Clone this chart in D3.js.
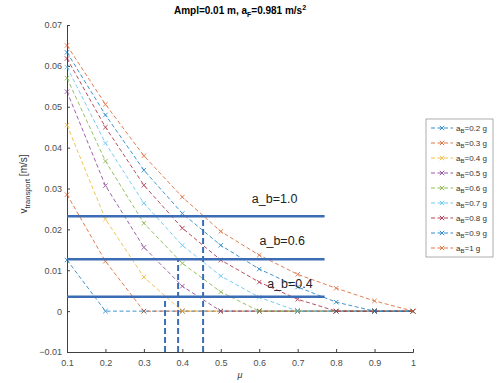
<!DOCTYPE html>
<html>
<head>
<meta charset="utf-8">
<script src="https://cdn.jsdelivr.net/npm/d3@7"></script>
<style>
  body { margin: 0; background: #fff; }
  svg { font-family: "Liberation Sans", Arial, sans-serif; }
</style>
</head>
<body>
<svg id="chart" width="500" height="383"></svg>
<script>
// mu values on the x axis
var mu = [0.1, 0.2, 0.3, 0.4, 0.5, 0.6, 0.7, 0.8, 0.9, 1.0]
var seriesNames = ['0.2', '0.3', '0.4', '0.5', '0.6', '0.7', '0.8', '0.9', '1']
// v_transport [m/s] for each a_B
var vB02 = [0.0125, 0, 0, 0, 0, 0, 0, 0, 0, 0]
var vB03 = [0.0285, 0.0122, 0, 0, 0, 0, 0, 0, 0, 0]
var vB04 = [0.0455, 0.0225, 0.0083, 0, 0, 0, 0, 0, 0, 0]
var vB05 = [0.0537, 0.0307, 0.0156, 0.0061, 0, 0, 0, 0, 0, 0]
var vB06 = [0.0570, 0.0367, 0.0215, 0.0117, 0.0047, 0, 0, 0, 0, 0]
var vB07 = [0.0597, 0.0411, 0.0264, 0.0161, 0.0086, 0.0034, 0, 0, 0, 0]
var vB08 = [0.0618, 0.0450, 0.0308, 0.0203, 0.0125, 0.0071, 0.0029, 0, 0, 0]
var vB09 = [0.0633, 0.0480, 0.0345, 0.0239, 0.0161, 0.0103, 0.0059, 0.0022, 0, 0]
var vB10 = [0.0650, 0.0506, 0.0380, 0.0279, 0.0195, 0.0137, 0.0090, 0.0056, 0.0025, 0]
var allSeries = [vB02, vB03, vB04, vB05, vB06, vB07, vB08, vB09, vB10]
var colors = ['#0072BD', '#D95319', '#EDB120', '#7E2F8E', '#77AC30', '#4DBEEE', '#A2142F', '#0072BD', '#D95319']
var xTicks = [0.1, 0.2, 0.3, 0.4, 0.5, 0.6, 0.7, 0.8, 0.9, 1]
var yTicks = [-0.01, 0, 0.01, 0.02, 0.03, 0.04, 0.05, 0.06, 0.07]
// hand-drawn guide lines
var levels = [0.0232, 0.0127, 0.0035]
var levelLabels = ['a_b=1.0', 'a_b=0.6', 'a_b=0.4']
var cutMu = [0.454, 0.389, 0.355]
var levelEnd = 0.77

var svg = d3.select('#chart')
var plotL = 67, plotT = 25, plotR = 413, plotB = 352

var x = d3.scaleLinear().domain([0.1, 1]).range([plotL, plotR])
var y = d3.scaleLinear().domain([-0.01, 0.07]).range([plotB, plotT])

var axisColor = '#404040'

// x axis
svg.append('g')
  .attr('transform', 'translate(0,' + plotB + ')')
  .call(d3.axisBottom(x).tickValues(xTicks).tickSize(-3).tickPadding(8)
    .tickFormat(function (d) { return d === 1 ? '1' : d3.format('.1f')(d) }))
// y axis
svg.append('g')
  .attr('transform', 'translate(' + plotL + ',0)')
  .call(d3.axisLeft(y).tickValues(yTicks).tickSize(-3).tickPadding(5)
    .tickFormat(function (d) { return d === 0 ? '0' : d3.format('.2f')(d) }))
svg.selectAll('.domain').attr('stroke', axisColor)
svg.selectAll('.tick line').attr('stroke', axisColor)
svg.selectAll('.tick text').attr('fill', '#4d4d4d').attr('font-size', '9px')

// series
var line = d3.line()
  .x(function (d, i) { return x(mu[i]) })
  .y(function (d) { return y(d) })

function cross (cx, cy, s) {
  return 'M' + (cx - s) + ',' + (cy - s) + 'L' + (cx + s) + ',' + (cy + s) +
    'M' + (cx - s) + ',' + (cy + s) + 'L' + (cx + s) + ',' + (cy - s)
}

allSeries.forEach(function (vals, k) {
  var g = svg.append('g').attr('opacity', 0.75)
  g.append('path')
    .attr('d', line(vals))
    .attr('fill', 'none')
    .attr('stroke', colors[k])
    .attr('stroke-width', 1)
    .attr('stroke-dasharray', '4,2.5')
  g.selectAll('path.m')
    .data(vals)
    .enter().append('path')
    .attr('class', 'm')
    .attr('d', function (d, i) { return cross(x(mu[i]), y(d), 2.2) })
    .attr('stroke', colors[k])
    .attr('stroke-width', 1)
})

// guide lines
var guide = '#3C6DB4'
levels.forEach(function (lv, i) {
  svg.append('line')
    .attr('x1', x(0.1)).attr('x2', x(levelEnd))
    .attr('y1', y(lv)).attr('y2', y(lv))
    .attr('stroke', guide).attr('stroke-width', 2.5)
  svg.append('line')
    .attr('x1', x(cutMu[i])).attr('x2', x(cutMu[i]))
    .attr('y1', y(-0.01)).attr('y2', y(lv))
    .attr('stroke', guide).attr('stroke-width', 2)
    .attr('stroke-dasharray', '6,3')
})
var labelMu = [0.64, 0.66, 0.68]
var labelV = [0.0265, 0.0162, 0.0057]
levelLabels.forEach(function (t, i) {
  svg.append('text')
    .attr('x', x(labelMu[i])).attr('y', y(labelV[i]))
    .attr('text-anchor', 'middle')
    .attr('font-size', '12.5px')
    .attr('fill', '#222')
    .text(t)
})

// title
var title = svg.append('text')
  .attr('x', (plotL + plotR) / 2).attr('y', 14)
  .attr('text-anchor', 'middle')
  .attr('font-size', '10px')
  .attr('font-weight', 'bold')
  .attr('fill', '#000')
title.append('tspan').text('Ampl=0.01 m, a')
title.append('tspan').attr('dy', 2.5).attr('font-size', '7px').text('F')
title.append('tspan').attr('dy', -2.5).text('=0.981 m/s')
title.append('tspan').attr('dy', -4).attr('font-size', '7px').text('2')

// axis labels
var yl = svg.append('text')
  .attr('transform', 'translate(27,184) rotate(-90)')
  .attr('text-anchor', 'middle')
  .attr('font-size', '10px')
  .attr('fill', '#333')
yl.append('tspan').text('v')
yl.append('tspan').attr('dy', 3).attr('font-size', '7.5px').text('transport')
yl.append('tspan').attr('dy', -3).text(' [m/s]')

svg.append('text')
  .attr('x', (plotL + plotR) / 2).attr('y', 378)
  .attr('text-anchor', 'middle')
  .attr('font-size', '9px')
  .attr('font-style', 'italic')
  .attr('fill', '#333')
  .text('\u03bc')

// legend
var lg = svg.append('g')
lg.append('rect')
  .attr('x', 426).attr('y', 119).attr('width', 67).attr('height', 138)
  .attr('fill', '#fff').attr('stroke', '#999').attr('stroke-width', 0.8)
seriesNames.forEach(function (n, k) {
  var ry = 128 + k * 15
  var item = lg.append('g').attr('opacity', 0.8)
  item.append('line')
    .attr('x1', 431).attr('x2', 453).attr('y1', ry).attr('y2', ry)
    .attr('stroke', colors[k]).attr('stroke-width', 1)
    .attr('stroke-dasharray', '4,2.5')
  item.append('path')
    .attr('d', cross(442, ry, 2.2))
    .attr('stroke', colors[k]).attr('stroke-width', 1)
  var t = lg.append('text')
    .attr('x', 456).attr('y', ry + 3)
    .attr('font-size', '8px')
    .attr('fill', '#333')
  t.append('tspan').text('a')
  t.append('tspan').attr('dy', 2).attr('font-size', '6px').text('B')
  t.append('tspan').attr('dy', -2).text('=' + n + ' g')
})
</script>
</body>
</html>
